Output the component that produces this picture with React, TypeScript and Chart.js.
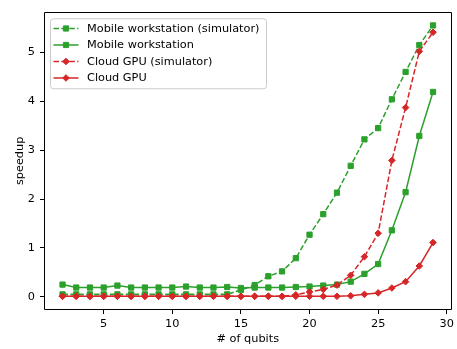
import React, { useEffect, useRef } from "react";
import { Chart, registerables } from "chart.js";

Chart.register(...registerables);

const qubits = [2, 3, 4, 5, 6, 7, 8, 9, 10, 11, 12, 13, 14, 15, 16, 17, 18, 19, 20, 21, 22, 23, 24, 25, 26, 27, 28, 29];
const xTicks = [5, 10, 15, 20, 25, 30];
const yTicks = [0, 1, 2, 3, 4, 5];

const mobileSim = [0.05, 0.05, 0.05, 0.05, 0.05, 0.05, 0.05, 0.05, 0.05, 0.05, 0.05, 0.05, 0.05, 0.14, 0.24, 0.42, 0.52, 0.79, 1.27, 1.69, 2.13, 2.68, 3.22, 3.45, 4.04, 4.6, 5.15, 5.55];
const mobile = [0.25, 0.19, 0.19, 0.19, 0.23, 0.19, 0.19, 0.19, 0.19, 0.21, 0.19, 0.19, 0.2, 0.18, 0.19, 0.19, 0.19, 0.2, 0.21, 0.23, 0.25, 0.31, 0.47, 0.67, 1.36, 2.14, 3.29, 4.19];
const cloudSim = [0.01, 0.01, 0.01, 0.01, 0.01, 0.01, 0.01, 0.01, 0.01, 0.01, 0.01, 0.01, 0.01, 0.01, 0.01, 0.01, 0.01, 0.04, 0.1, 0.15, 0.24, 0.44, 0.82, 1.3, 2.79, 3.87, 5.02, 5.41];
const cloud = [0.01, 0.01, 0.01, 0.01, 0.01, 0.01, 0.01, 0.01, 0.01, 0.01, 0.01, 0.01, 0.01, 0.01, 0.01, 0.01, 0.01, 0.01, 0.01, 0.01, 0.01, 0.02, 0.05, 0.08, 0.18, 0.31, 0.63, 1.11];

const seriesLabels = ["Mobile workstation (simulator)", "Mobile workstation", "Cloud GPU (simulator)", "Cloud GPU"];
const xTitle = "# of qubits";
const yTitle = "speedup";

const GREEN = "#2ca02c";
const RED = "#d62728";
const FONT = "'DejaVu Sans', sans-serif";
const FS = 11.3;
const DASH = [5.5, 2.4];

function drawMarker(ctx: CanvasRenderingContext2D, style: string, x: number, y: number, color: string) {
  ctx.save();
  ctx.fillStyle = color;
  ctx.strokeStyle = color;
  ctx.lineWidth = 1;
  ctx.setLineDash([]);
  ctx.beginPath();
  if (style === "rect") {
    const s = 2.6;
    ctx.rect(x - s, y - s, 2 * s, 2 * s);
  } else {
    const r = 3.3;
    ctx.moveTo(x, y - r);
    ctx.lineTo(x + r, y);
    ctx.lineTo(x, y + r);
    ctx.lineTo(x - r, y);
    ctx.closePath();
  }
  ctx.fill();
  ctx.stroke();
  ctx.restore();
}

const framePlugin = {
  id: "frame",
  afterDatasetsDraw(chart: any) {
    const { ctx, chartArea } = chart;
    const l = Math.round(chartArea.left) + 0.5;
    const r = Math.round(chartArea.right) - 0.5;
    const t = Math.round(chartArea.top) + 0.5;
    const b = Math.round(chartArea.bottom) - 0.5;
    ctx.save();
    ctx.strokeStyle = "#000";
    ctx.lineWidth = 1;
    ctx.setLineDash([]);
    ctx.beginPath();
    ctx.moveTo(l, t);
    ctx.lineTo(r, t);
    ctx.lineTo(r, b);
    ctx.lineTo(l, b);
    ctx.closePath();
    ctx.stroke();
    ctx.restore();
  },
};

const legendPlugin = {
  id: "mplLegend",
  afterDraw(chart: any) {
    const { ctx, chartArea } = chart;
    const bx = chartArea.left + 6;
    const by = chartArea.top + 6.5;
    const bw = 216;
    const bh = 70;
    ctx.save();
    ctx.beginPath();
    (ctx as any).roundRect(bx + 0.5, by + 0.5, bw, bh, 3);
    ctx.fillStyle = "rgba(255,255,255,0.8)";
    ctx.fill();
    ctx.strokeStyle = "#cccccc";
    ctx.lineWidth = 1;
    ctx.stroke();
    ctx.font = `${FS}px ${FONT}`;
    ctx.textBaseline = "middle";
    ctx.textAlign = "left";
    chart.data.datasets.forEach((ds: any, i: number) => {
      const y = by + 10.2 + i * 16.5;
      const x0 = bx + 3.5;
      const x1 = bx + 28.5;
      ctx.save();
      ctx.strokeStyle = ds.borderColor;
      ctx.lineWidth = 1.5;
      ctx.setLineDash(ds.borderDash || []);
      ctx.beginPath();
      ctx.moveTo(x0, y);
      ctx.lineTo(x1, y);
      ctx.stroke();
      ctx.restore();
      drawMarker(ctx, ds.pointStyle, (x0 + x1) / 2, y, ds.borderColor);
      ctx.fillStyle = "#000";
      ctx.fillText(ds.label, bx + 37, y + 0.5);
    });
    ctx.restore();
  },
};

function makeDataset(label: string, values: number[], color: string, dashed: boolean, style: string, order: number) {
  return {
    label,
    data: qubits.map((q, i) => ({ x: q, y: values[i] })),
    borderColor: color,
    backgroundColor: color,
    borderWidth: 1.5,
    borderDash: dashed ? DASH : [],
    pointStyle: style,
    pointRadius: style === "rect" ? 3.7 : 3.3,
    pointBorderWidth: 1,
    pointBackgroundColor: color,
    pointBorderColor: color,
    tension: 0,
    fill: false,
    order,
  };
}

export default function App() {
  const ref = useRef<HTMLCanvasElement>(null);
  useEffect(() => {
    document.body.style.margin = "0";
    Chart.defaults.color = "#000";
    Chart.defaults.font.family = FONT;
    Chart.defaults.font.size = FS;
    const canvas = ref.current!;
    const chart = new Chart(canvas, {
      type: "line",
      data: {
        datasets: [
          makeDataset(seriesLabels[0], mobileSim, GREEN, true, "rect", 4),
          makeDataset(seriesLabels[1], mobile, GREEN, false, "rect", 3),
          makeDataset(seriesLabels[2], cloudSim, RED, true, "rectRot", 2),
          makeDataset(seriesLabels[3], cloud, RED, false, "rectRot", 1),
        ] as any,
      },
      options: {
        responsive: false,
        animation: false,
        devicePixelRatio: 1,
        layout: { padding: { top: 5, right: 4, left: 0, bottom: 0 } },
        plugins: { legend: { display: false }, tooltip: { enabled: false } },
        scales: {
          x: {
            type: "linear",
            min: 0.65,
            max: 30.35,
            afterBuildTicks: (scale: any) => {
              scale.ticks = xTicks.map((v) => ({ value: v }));
            },
            afterFit: (scale: any) => {
              scale.height = 39;
            },
            ticks: {
              padding: 3,
              color: "#000",
              font: { family: FONT, size: FS },
              callback: (v: any) => String(v),
              maxRotation: 0,
            },
            grid: { display: true, drawOnChartArea: false, drawTicks: true, tickLength: 4, color: "#000", lineWidth: 1 },
            border: { display: false },
            title: {
              display: true,
              text: xTitle,
              color: "#000",
              font: { family: FONT, size: FS, lineHeight: 1.2 },
              padding: { top: 0, bottom: 3 },
            },
          },
          y: {
            type: "linear",
            min: -0.27,
            max: 5.83,
            afterBuildTicks: (scale: any) => {
              scale.ticks = yTicks.map((v) => ({ value: v }));
            },
            afterFit: (scale: any) => {
              scale.width = 44;
            },
            ticks: {
              padding: 5,
              color: "#000",
              font: { family: FONT, size: FS },
              callback: (v: any) => String(v),
            },
            grid: { display: true, drawOnChartArea: false, drawTicks: true, tickLength: 4, color: "#000", lineWidth: 1 },
            border: { display: false },
            title: {
              display: true,
              text: yTitle,
              color: "#000",
              font: { family: FONT, size: FS, lineHeight: 1.2 },
              padding: { top: 13, bottom: 0 },
            },
          },
        },
      } as any,
      plugins: [framePlugin, legendPlugin],
    });
    return () => chart.destroy();
  }, []);
  return (
    <div style={{ width: 457, height: 349 }}>
      <canvas ref={ref} width={457} height={349} style={{ display: "block", width: 457, height: 349 }} />
    </div>
  );
}
